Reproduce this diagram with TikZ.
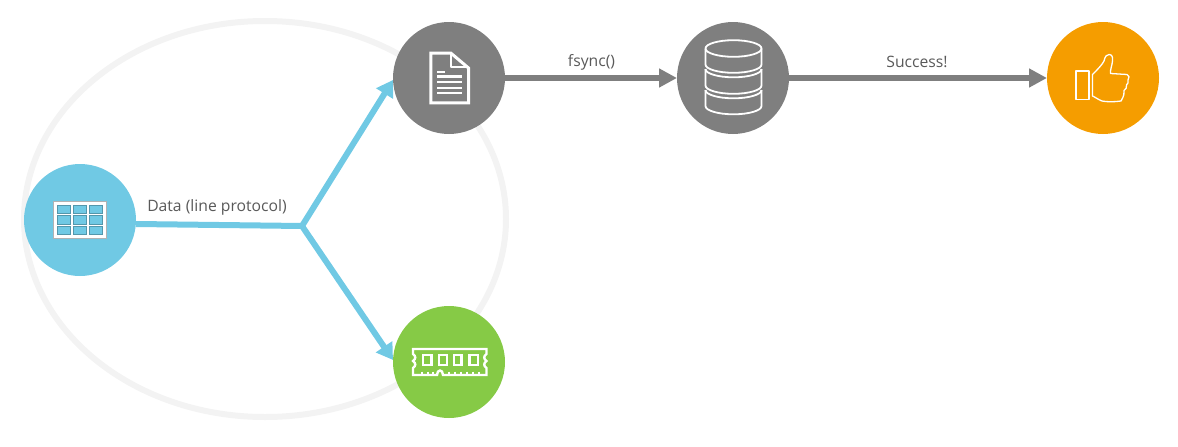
\documentclass[tikz,border=0pt]{standalone}
\usepackage{fontspec}
\setmainfont{Open Sans}
\usetikzlibrary{arrows.meta,calc}
\definecolor{cblue}{HTML}{70C9E4}
\definecolor{cgray}{HTML}{7F7F7F}
\definecolor{corange}{HTML}{F59D00}
\definecolor{cgreen}{HTML}{86CA46}
\definecolor{cring}{HTML}{F3F3F3}
\definecolor{ctext}{HTML}{595959}
\tikzset{
  disc/.style={circle,minimum size=112pt,inner sep=0pt,outer sep=0pt,fill=#1},
  bluelink/.style={draw=cblue,line width=6pt,line cap=butt},
  bluearrow/.style={bluelink,-{Triangle[length=16pt,width=19pt]}},
  grayarrow/.style={draw=cgray,line width=6pt,-{Triangle[length=18pt,width=18pt]}},
  lab/.style={text=ctext,font=\fontsize{15.7pt}{18pt}\selectfont,inner sep=0pt},
  icon/.style={draw=white,line width=1.8pt,line join=round},
}
\begin{document}
\begin{tikzpicture}[x=1pt,y=-1pt]
\useasboundingbox (0,0) rectangle (1178,447);
% ring
\draw[cring,line width=6pt] (265,219) ellipse [x radius=241,y radius=198];
% discs
\node[disc=cblue] (src) at (80,220) {};
\node[disc=cgray] (wal) at (449,78) {};
\node[disc=cgreen] (mem) at (449,362) {};
\node[disc=cgray] (db) at (733,78) {};
\node[disc=corange] (ok) at (1103,78) {};
\coordinate (fork) at (302,226);
% connectors
\draw[bluelink] (src.east |- 0,224) -- (fork);
\draw[bluearrow] (fork) -- (wal.west |- 0,80);
\draw[bluearrow] (fork) -- (mem.west |- 0,360);
\draw[grayarrow] (wal.east) -- (db.west);
\draw[grayarrow] (db.east) -- (ok.west);
% labels
\node[lab] (l1) at (217,207) {Data (line protocol)};
\node[lab] (l2) at (591.5,62) {fsync()};
\node[lab] (l3) at (917,62) {Success!};
% table icon
\fill[white,draw=black!30,line width=.5pt] (53.3,201.3) rectangle (106.7,238.7);
\foreach \xa/\xb in {57/70.7,73.3/86.7,89.3/102.7}
  \foreach \ya/\yb in {205.3/213.3,215.7/224,226.3/234.7}
    \fill[cblue,draw=black!25!cblue,line width=.5pt] (\xa,\ya) rectangle (\xb,\yb);
% document icon
\draw[icon,line width=3pt,line join=miter] (430.8,53.2) -- (451,53.2) -- (468.5,68) -- (468.5,102.8) -- (430.8,102.8) -- cycle;
\draw[icon,line width=2pt] (451,53) -- (451,67) -- (468.5,67);
\draw[white,line width=2.2pt] (437,72) -- (445,72);
\foreach \y in {76.5,82.3,87.7,93.3}
  \draw[white,line width=2.2pt] (437,\y) -- (462,\y);
% database icon
\begin{scope}[icon]
\draw (705.5,48.5) arc [start angle=180,end angle=-180,x radius=28,y radius=8.3];
\draw (705.5,48.5) -- (705.5,64.5) arc [start angle=180,end angle=0,x radius=28,y radius=8.3] -- (761.5,48.5);
\draw (705.5,69) -- (705.5,85.5) arc [start angle=180,end angle=0,x radius=28,y radius=8.3] -- (761.5,69);
\draw (705.5,69) arc [start angle=180,end angle=0,x radius=28,y radius=8.3];
\draw (705.5,90) -- (705.5,106) arc [start angle=180,end angle=0,x radius=28,y radius=8.3] -- (761.5,90);
\draw (705.5,90) arc [start angle=180,end angle=0,x radius=28,y radius=8.3];
\end{scope}
% thumb icon
\draw[icon,line width=1.3pt] (1076,71) rectangle (1089,99.5);
\draw[icon,line width=1.3pt] (1092.5,74.5) .. controls (1097,70) and (1102,65) .. (1104,61)
  .. controls (1105,56) and (1107,54.5) .. (1109,54.5)
  .. controls (1112,54.5) and (1113,57) .. (1112.5,61)
  .. controls (1112,66) and (1110,70) .. (1110.5,73.5)
  -- (1127,74.5) .. controls (1129.5,75) and (1129.5,78) .. (1128,80)
  .. controls (1128.5,82) and (1128,84) .. (1126.5,85)
  .. controls (1127,87) and (1126,89.5) .. (1124,90.5)
  .. controls (1124.5,93) and (1124,96) .. (1121,101)
  .. controls (1115,102) and (1106,102) .. (1102,101)
  .. controls (1098,99.5) and (1095,97) .. (1092.5,96) -- cycle;
% ram icon
\draw[white,line width=2.4pt,line join=miter] (413,349) -- (486.5,349) -- (486.5,354)
  .. controls (483.5,356) and (483.5,359) .. (486.5,361)
  .. controls (483.5,363) and (483.5,366) .. (486.5,368)
  -- (486.5,375) -- (443,375)
  .. controls (443,369) and (437,369) .. (437,375)
  -- (413,375) -- (413,368)
  .. controls (416,366) and (416,363) .. (413,361)
  .. controls (416,359) and (416,356) .. (413,354) -- cycle;
\foreach \xa/\xb in {423/431.5,439/447,454/461.5,469.5/478}
  \draw[white,line width=2.4pt] (\xa,355) rectangle (\xb,365);
\foreach \x in {422,428,433,449,455,461,467,473,479}
  \draw[white,line width=1.6pt] (\x,371.5) -- (\x,375);
\end{tikzpicture}
\end{document}
